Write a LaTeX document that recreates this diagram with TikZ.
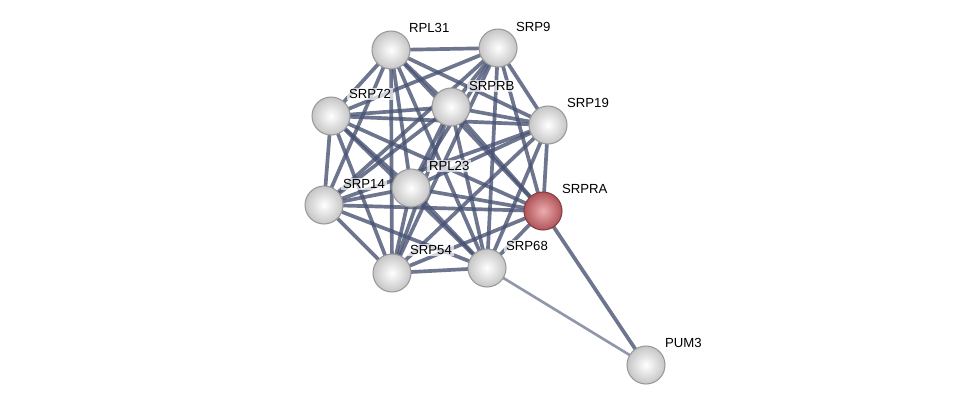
\documentclass[tikz,border=0pt]{standalone}
\usepackage{fontspec}
\setmainfont{Liberation Sans}
\usetikzlibrary{shadings}
\definecolor{edgeblue}{RGB}{72,82,115}
\definecolor{ballred}{RGB}{220,105,110}

\begin{document}
\begin{tikzpicture}[
    x=0.02cm, y=-0.02cm,
    pnode/.style={circle, shading=radial, inner color=white, outer color=gray!45, draw=gray!80, line width=0.6pt, minimum size=0.76cm, inner sep=0pt},
    qnode/.style={circle, shading=radial, inner color=ballred!55!white, outer color=ballred!80!black, draw=ballred!60!black, line width=0.6pt, minimum size=0.76cm, inner sep=0pt},
    lbl/.style={font=\fontsize{7.5}{8}\selectfont, fill=white, fill opacity=0.7, text opacity=1, inner sep=1pt, anchor=west},
    link/.style={draw=edgeblue, line width=2.1pt, opacity=0.8},
    weak/.style={draw=edgeblue!60, line width=1.5pt},
  ]
  \useasboundingbox (0,0) rectangle (975,410);
  % coordinates of the proteins
  \coordinate (rpl31) at (391,50);
  \coordinate (srp9)  at (498,48);
  \coordinate (srp72) at (331,116);
  \coordinate (srprb) at (451,107);
  \coordinate (srp19) at (548,125);
  \coordinate (rpl23) at (411,188);
  \coordinate (srp14) at (324,205);
  \coordinate (srpra) at (543,211);
  \coordinate (srp54) at (392,273);
  \coordinate (srp68) at (487,268);
  \coordinate (pum3)  at (646,365);
  % dense core, every pair linked
  \foreach \a/\rest in {rpl31/{srp9,srp72,srprb,srp19,rpl23,srp14,srpra,srp54,srp68},
                        srp9/{srp72,srprb,srp19,rpl23,srp14,srpra,srp54,srp68},
                        srp72/{srprb,srp19,rpl23,srp14,srpra,srp54,srp68},
                        srprb/{srp19,rpl23,srp14,srpra,srp54,srp68},
                        srp19/{rpl23,srp14,srpra,srp54,srp68},
                        rpl23/{srp14,srpra,srp54,srp68},
                        srp14/{srpra,srp54,srp68},
                        srpra/{srp54,srp68},
                        srp54/{srp68}}
    \foreach \b in \rest
      \draw[link] (\a) -- (\b);
  \draw[link] (srpra) -- (pum3);
  \draw[weak] (srp68) -- (pum3);
  % balls
  \node[pnode] (nrpl31) at (rpl31) {};
  \node[pnode] (nsrp9)  at (srp9)  {};
  \node[pnode] (nsrp72) at (srp72) {};
  \node[pnode] (nsrprb) at (srprb) {};
  \node[pnode] (nsrp19) at (srp19) {};
  \node[pnode] (nrpl23) at (rpl23) {};
  \node[pnode] (nsrp14) at (srp14) {};
  \node[qnode] (nsrpra) at (srpra) {};
  \node[pnode] (nsrp54) at (srp54) {};
  \node[pnode] (nsrp68) at (srp68) {};
  \node[pnode] (npum3)  at (pum3)  {};
  % labels
  \node[lbl] (trpl31) at (407,28)  {RPL31};
  \node[lbl] (tsrp9)  at (514,27)  {SRP9};
  \node[lbl] (tsrp72) at (347,94)  {SRP72};
  \node[lbl] (tsrprb) at (467,86)  {SRPRB};
  \node[lbl] (tsrp19) at (565,103) {SRP19};
  \node[lbl] (trpl23) at (427,166) {RPL23};
  \node[lbl] (tsrp14) at (341,184) {SRP14};
  \node[lbl] (tsrpra) at (560,189) {SRPRA};
  \node[lbl] (tsrp54) at (408,250) {SRP54};
  \node[lbl] (tsrp68) at (504,246) {SRP68};
  \node[lbl] (tpum3)  at (663,343) {PUM3};
\end{tikzpicture}
\end{document}
